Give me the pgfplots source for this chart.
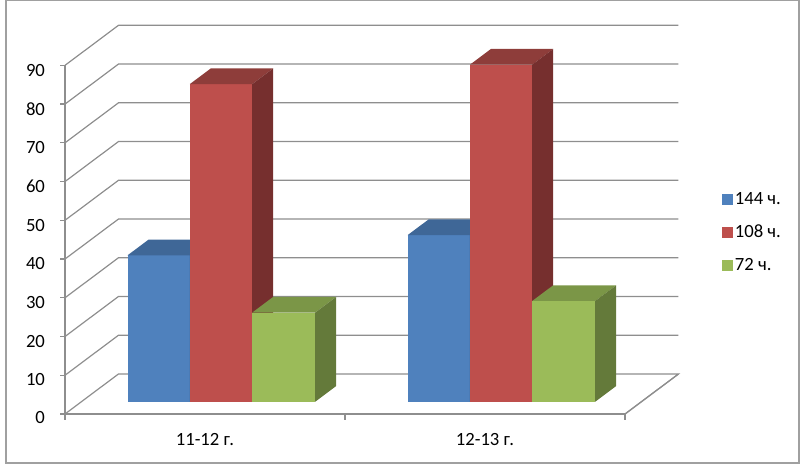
\documentclass[border=0pt]{standalone}
\usepackage{fontspec}
\setmainfont{Carlito}
\usepackage{pgfplots}
\pgfplotsset{compat=1.18}

\definecolor{gridgray}{HTML}{8E8E8E}
\definecolor{framegray}{HTML}{A0A0A0}
\definecolor{bluef}{HTML}{4F81BD}
\definecolor{bluet}{HTML}{3F6797}
\definecolor{blues}{HTML}{345580}
\definecolor{redf}{HTML}{BE4F4C}
\definecolor{redt}{HTML}{8E3D3A}
\definecolor{reds}{HTML}{762F2E}
\definecolor{greenf}{HTML}{9BBB59}
\definecolor{greent}{HTML}{7B9647}
\definecolor{greens}{HTML}{647A3A}

% one bar: x from, x to, value, front, top, side
\newcommand{\barbox}[6]{
  \addplot3[forget plot,draw=none,fill=#4] coordinates {(#1,0.307,0) (#2,0.307,0) (#2,0.307,#3) (#1,0.307,#3)};
  \addplot3[forget plot,draw=none,fill=#5] coordinates {(#1,0.307,#3) (#2,0.307,#3) (#2,0.7,#3) (#1,0.7,#3)};
  \addplot3[forget plot,draw=none,fill=#6] coordinates {(#2,0.307,0) (#2,0.7,0) (#2,0.7,#3) (#2,0.307,#3)};
}
\newcommand{\swatch}[1]{
  \addlegendimage{legend image code/.code={\fill[#1] (0pt,-3.75pt) rectangle (7.5pt,3.75pt);}}
}

\begin{document}
\begin{tikzpicture}
  % page = 800x466 px at 0.75pt per px, origin at the front left floor corner
  \path[use as bounding box] (-48.75pt,-39pt) rectangle (551.25pt,310.5pt);
  \draw[framegray,line width=0.9pt] (-44.25pt,-36.75pt) rectangle (550.5pt,310.2pt);
  \begin{axis}[
    anchor=origin, at={(0pt,0pt)},
    x={(210pt,0pt)}, y={(40.1pt,30pt)}, z={(0pt,2.9055pt)},
    xmin=0, xmax=2, ymin=0, ymax=1, zmin=0, zmax=90,
    axis lines=left,
    axis line style={-,gridgray,line width=0.9pt},
    clip=false,
    tick style={gridgray,line width=0.9pt},
    xtick={0.5,1.5}, xticklabels={11-12 г.,12-13 г.},
    ytick=\empty,
    ztick={0,10,...,90},
    major tick length=0pt,
    ticklabel style={font=\fontsize{14}{16}\selectfont,black},
    xticklabel style={yshift=-11pt,xshift=4pt},
    zticklabel style={xshift=-11.5pt},
    /pgf/number format/assume math mode=true,
    legend style={at={(axis cs:2.33,0,46.9)},anchor=west,draw=none,fill=none,
      font=\fontsize{14}{16}\selectfont,row sep=10pt,
      /tikz/every even column/.append style={column sep=4.5pt}},
    legend cell align=left,
  ]
    % walls and floor
    \addplot3[forget plot,gridgray,line width=0.9pt] coordinates {(0,0,0) (0,1,0) (2,1,0) (2,0,0) (0,0,0)};
    \pgfplotsinvokeforeach{10,20,30,40,50,60,70,80,90}{
      \addplot3[forget plot,gridgray,line width=0.9pt] coordinates {(0,0,#1) (0,1,#1) (2,1,#1)};
      \addplot3[forget plot,gridgray,line width=0.9pt] coordinates {(0,0,#1) (-0.018,0,#1)};
    }
    \addplot3[forget plot,gridgray,line width=0.9pt] coordinates {(0,0,0) (-0.018,0,0)};
    \addplot3[forget plot,gridgray,line width=0.9pt] coordinates {(0,0,0) (0,0,-1.5)};
    \addplot3[forget plot,gridgray,line width=0.9pt] coordinates {(1,0,0) (1,0,-1.5)};
    \addplot3[forget plot,gridgray,line width=0.9pt] coordinates {(2,0,0) (2,0,-1.5)};

    \barbox{0.165}{0.3875}{37.8}{bluef}{bluet}{blues}
    \barbox{0.3875}{0.61}{82}{redf}{redt}{reds}
    \barbox{0.61}{0.835}{23}{greenf}{greent}{greens}
    \barbox{1.165}{1.3875}{43}{bluef}{bluet}{blues}
    \barbox{1.3875}{1.61}{87}{redf}{redt}{reds}
    \barbox{1.61}{1.835}{26}{greenf}{greent}{greens}

    \swatch{bluef}
    \addlegendentry{144 ч.}
    \swatch{redf}
    \addlegendentry{108 ч.}
    \swatch{greenf}
    \addlegendentry{72 ч.}
  \end{axis}
\end{tikzpicture}
\end{document}
